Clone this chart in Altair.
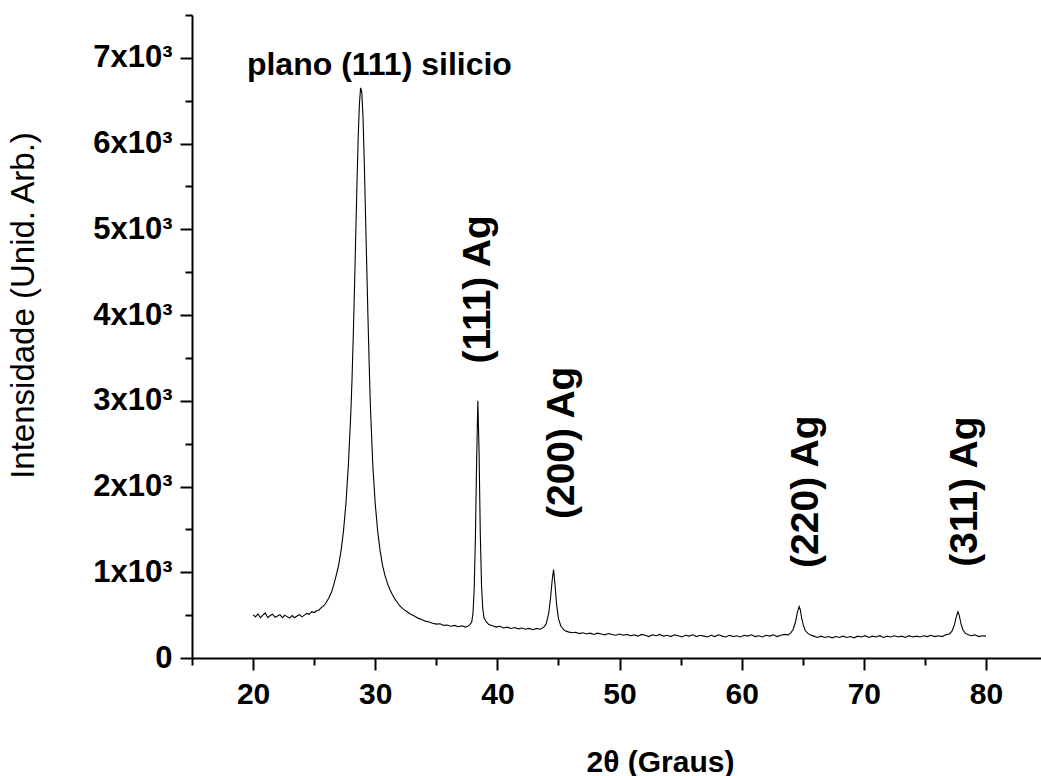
import altair as alt
import pandas as pd

two_theta = [
    20.0, 20.2, 20.4, 20.6, 20.8, 21.0, 21.2, 21.4, 21.6, 21.8,
    22.0, 22.2, 22.4, 22.6, 22.8, 23.0, 23.2, 23.4, 23.6, 23.8,
    24.0, 24.2, 24.4, 24.6, 24.8, 25.0, 25.2, 25.4, 25.6, 25.8,
    26.0, 26.2, 26.4, 26.6, 26.8, 27.0, 27.2, 27.4, 27.6, 27.8,
    28.0, 28.1, 28.2, 28.3, 28.4, 28.5, 28.6, 28.7, 28.8, 28.9,
    29.0, 29.1, 29.2, 29.3, 29.4, 29.5, 29.6, 29.8, 30.0, 30.2,
    30.4, 30.6, 30.8, 31.0, 31.2, 31.4, 31.6, 31.8, 32.0, 32.3,
    32.6, 32.9, 33.2, 33.5, 33.8, 34.1, 34.4, 34.7, 35.0, 35.3,
    35.6, 35.9, 36.2, 36.5, 36.8, 37.1, 37.4, 37.7, 37.9, 38.0,
    38.1, 38.2, 38.3, 38.4, 38.5, 38.6, 38.7, 38.8, 38.9, 39.1,
    39.3, 39.6, 39.9, 40.2, 40.5, 40.8, 41.1, 41.4, 41.7, 42.0,
    42.3, 42.6, 42.9, 43.2, 43.5, 43.8, 44.0, 44.2, 44.35, 44.5,
    44.6, 44.7, 44.85, 45.0, 45.2, 45.5, 45.8, 46.1, 46.4, 46.7,
    47.0, 47.3, 47.6, 47.9, 48.2, 48.5, 48.8, 49.1, 49.4, 49.7,
    50.0, 50.3, 50.6, 50.9, 51.2, 51.5, 51.8, 52.1, 52.4, 52.7,
    53.0, 53.3, 53.6, 53.9, 54.2, 54.5, 54.8, 55.1, 55.4, 55.7,
    56.0, 56.3, 56.6, 56.9, 57.2, 57.5, 57.8, 58.1, 58.4, 58.7,
    59.0, 59.3, 59.6, 59.9, 60.2, 60.5, 60.8, 61.1, 61.4, 61.7,
    62.0, 62.3, 62.6, 62.9, 63.2, 63.5, 63.8, 64.0, 64.2, 64.4,
    64.55, 64.7, 64.8, 64.9, 65.05, 65.2, 65.4, 65.6, 65.9, 66.2,
    66.5, 66.8, 67.1, 67.4, 67.7, 68.0, 68.3, 68.6, 68.9, 69.2,
    69.5, 69.8, 70.1, 70.4, 70.7, 71.0, 71.3, 71.6, 71.9, 72.2,
    72.5, 72.8, 73.1, 73.4, 73.7, 74.0, 74.3, 74.6, 74.9, 75.2,
    75.5, 75.8, 76.1, 76.4, 76.7, 77.0, 77.2, 77.4, 77.55, 77.7,
    77.8, 77.95, 78.1, 78.3, 78.5, 78.8, 79.1, 79.4, 79.7, 80.0,
]

intensity = [
    505, 480, 515, 470, 500, 525, 470, 495, 510, 475,
    490, 505, 470, 500, 480, 465, 495, 470, 490, 505,
    480, 500, 520, 510, 540, 530, 550, 560, 590, 610,
    650, 700, 760, 850, 960, 1080, 1250, 1480, 1800, 2250,
    2850, 3250, 3750, 4300, 4900, 5500, 6050, 6450, 6650, 6600,
    6300, 5800, 5200, 4600, 4000, 3450, 2950, 2250, 1800, 1480,
    1250, 1080, 960, 870, 800, 740, 690, 650, 610, 570,
    540, 510, 490, 465, 450, 430, 420, 405, 395, 400,
    380, 385, 370, 380, 365, 375, 360, 380, 420, 520,
    800, 1400, 2300, 3000, 2400, 1450, 850, 580, 470, 420,
    390, 375, 360, 370, 350, 360, 345, 355, 340, 350,
    335, 345, 330, 345, 335, 360, 400, 520, 700, 930,
    1030, 880, 620, 460, 370, 320, 305, 295, 300, 285,
    295, 280, 290, 275, 290, 280, 270, 285, 275, 265,
    280, 265, 275, 260, 270, 255, 275, 265, 250, 270,
    260, 275, 255, 265, 250, 270, 260, 245, 265, 255,
    270, 250, 265, 255, 245, 265, 250, 270, 255, 245,
    265, 250, 260, 245, 265, 255, 270, 250, 260, 245,
    265, 255, 270, 250, 265, 275, 270, 290, 330, 420,
    530, 600, 560, 470, 380, 320, 290, 270, 255, 240,
    255, 240, 250, 235, 250, 240, 255, 240, 250, 235,
    255, 245, 260, 240, 255, 245, 260, 240, 255, 245,
    260, 245, 255, 240, 260, 245, 255, 245, 260, 250,
    265, 250, 260, 250, 270, 280, 310, 380, 470, 540,
    500, 400, 330, 290, 275, 260, 270, 250, 260, 255,
]

x_ticks = [15, 20, 25, 30, 35, 40, 45, 50, 55, 60, 65, 70, 75, 80]
y_ticks = [0, 500, 1000, 1500, 2000, 2500, 3000, 3500, 4000, 4500,
           5000, 5500, 6000, 6500, 7000, 7500]

top_label = ["plano (111) silicio"]
top_label_x = [30.34]
top_label_y = [6920]

ag_labels = ["(111) Ag", "(200) Ag", "(220) Ag", "(311) Ag"]
ag_label_x = [38.45, 45.28, 65.25, 78.26]
ag_label_y = [4300, 2510, 1940, 1940]

FONT = "Liberation Sans"

df = pd.DataFrame({"t": two_theta, "i": intensity})
df_top = pd.DataFrame({"label": top_label, "t": top_label_x, "i": top_label_y})
df_ag = pd.DataFrame({"label": ag_labels, "t": ag_label_x, "i": ag_label_y})

x_scale = alt.Scale(domain=[15, 84.5], nice=False, zero=False)
y_scale = alt.Scale(domain=[0, 7500], nice=False)

x_axis = alt.Axis(
    values=x_ticks,
    labelExpr="datum.value % 10 === 0 ? datum.label : ''",
    tickSize={"condition": {"test": "datum.value % 10 === 0", "value": 12}, "value": 7},
    tickWidth=2, tickColor="black", domainWidth=2, domainColor="black",
    labelFont=FONT, labelFontSize=30, labelFontWeight="bold", labelColor="black",
    labelPadding=9, labelOverlap=False, labelFlush=False, grid=False,
    title="2θ (Graus)", titleFont=FONT, titleFontSize=30, titleFontWeight="bold",
    titleColor="black", titleX=468, titleY=113, titleAlign="center",
    titleBaseline="alphabetic", titleAnchor="start",
)

y_axis = alt.Axis(
    values=y_ticks,
    labelExpr="datum.value === 0 ? '0' : (datum.value % 1000 === 0 ? (datum.value / 1000) + 'x10³' : '')",
    tickSize={"condition": {"test": "datum.value % 1000 === 0", "value": 12}, "value": 7},
    tickWidth=2, tickColor="black", domainWidth=2, domainColor="black",
    labelFont=FONT, labelFontSize=31, labelFontWeight="bold", labelColor="black",
    labelPadding=8, labelOverlap=False, labelFlush=False, grid=False,
    title="Intensidade (Unid. Arb.)", titleFont=FONT, titleFontSize=33,
    titleFontWeight="normal", titleColor="black", titleAngle=270,
    titleX=-169, titleY=290, titleAlign="center", titleBaseline="middle",
    titleAnchor="start",
)

line = alt.Chart(df).mark_line(color="black", strokeWidth=1.1).encode(
    x=alt.X("t:Q", scale=x_scale, axis=x_axis),
    y=alt.Y("i:Q", scale=y_scale, axis=y_axis),
)

top_text = alt.Chart(df_top).mark_text(
    font=FONT, fontSize=32, fontWeight="bold", color="black",
    align="center", baseline="middle",
).encode(x=alt.X("t:Q", scale=x_scale), y=alt.Y("i:Q", scale=y_scale), text="label:N")

ag_text = alt.Chart(df_ag).mark_text(
    font=FONT, fontSize=39, fontWeight="bold", color="black",
    align="center", baseline="middle", angle=270,
).encode(x=alt.X("t:Q", scale=x_scale), y=alt.Y("i:Q", scale=y_scale), text="label:N")

chart = (line + top_text + ag_text).properties(
    width=849, height=643,
    autosize=alt.AutoSizeParams(type="none"),
    padding={"left": 192, "top": 15, "right": 0, "bottom": 118},
    background="white",
).configure_view(stroke=None)

chart.save("out.html", embed_options={"renderer": "svg", "actions": False})
